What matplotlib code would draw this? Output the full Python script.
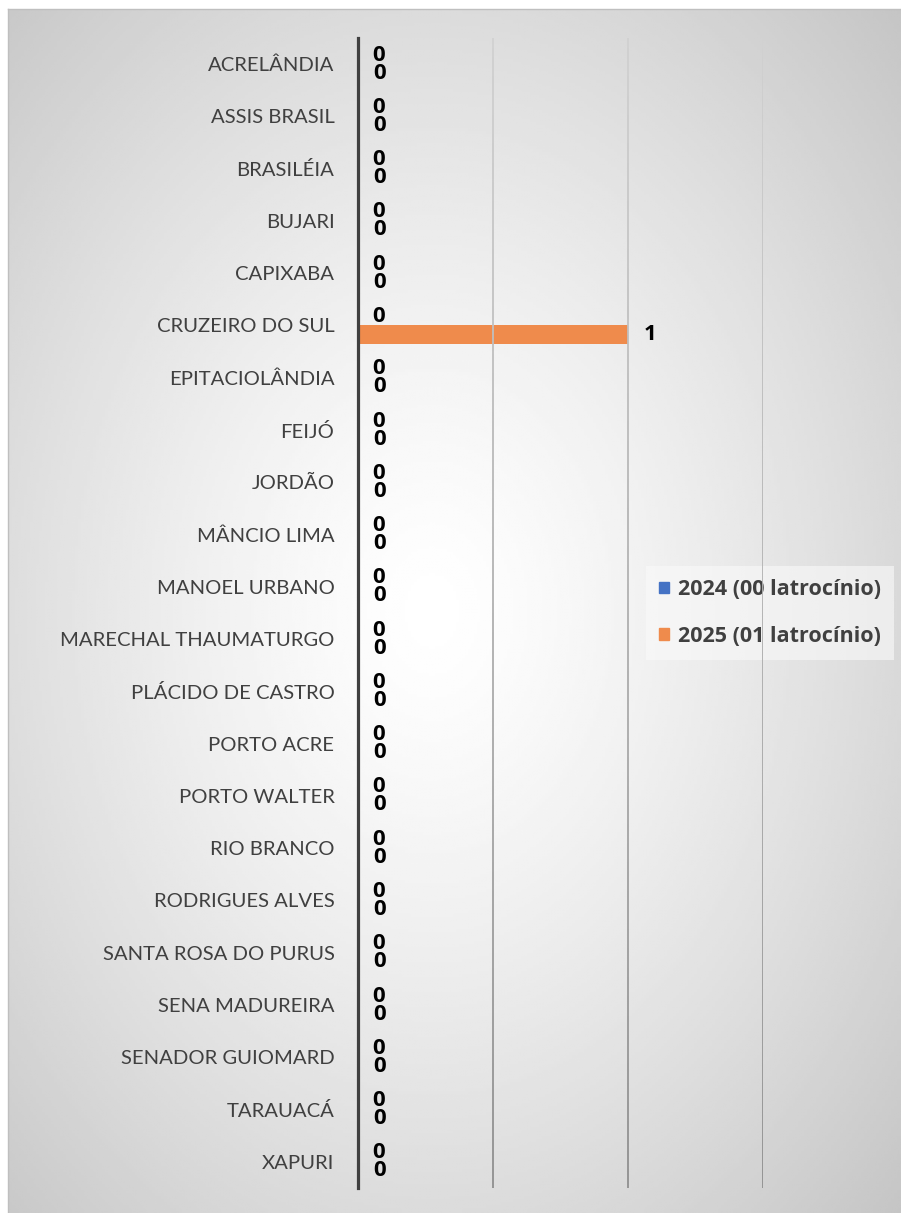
import matplotlib.pyplot as plt
import numpy as np
from matplotlib.collections import LineCollection
from matplotlib.patches import Patch
import matplotlib.transforms as mtransforms

# --- data ---
municipios = ["ACRELÂNDIA", "ASSIS BRASIL", "BRASILÉIA", "BUJARI", "CAPIXABA",
              "CRUZEIRO DO SUL", "EPITACIOLÂNDIA", "FEIJÓ", "JORDÃO", "MÂNCIO LIMA",
              "MANOEL URBANO", "MARECHAL THAUMATURGO", "PLÁCIDO DE CASTRO",
              "PORTO ACRE", "PORTO WALTER", "RIO BRANCO", "RODRIGUES ALVES",
              "SANTA ROSA DO PURUS", "SENA MADUREIRA", "SENADOR GUIOMARD",
              "TARAUACÁ", "XAPURI"]
valores_2024 = [0, 0, 0, 0, 0, 0, 0, 0, 0, 0, 0, 0, 0, 0, 0, 0, 0, 0, 0, 0, 0, 0]
valores_2025 = [0, 0, 0, 0, 0, 1, 0, 0, 0, 0, 0, 0, 0, 0, 0, 0, 0, 0, 0, 0, 0, 0]
series = ["2024 (00 latrocínio)", "2025 (01 latrocínio)"]
x_ticks = [0, 0.5, 1.0, 1.5]

cor_2024 = '#4472C4'
cor_2025 = '#EF8B4C'
cor_texto = '#404040'
fonte_bold = 'Open Sans'

W, H = 901, 1213
fig = plt.figure(figsize=(W / 100, H / 100), dpi=100)

# --- radial gradient background ---
bg = fig.add_axes([8 / W, 0, 1 - 8 / W, 1 - 9 / H], zorder=-10)
gx, gy = np.meshgrid(np.linspace(-1, 1, 300), np.linspace(-1, 1, 400))
r = np.sqrt(((gx + 0.05) ** 2 + gy ** 2) / 2)
val = np.clip(1 - 0.22 * r ** 1.3, 0, 1)
bg.imshow(val, cmap='gray', vmin=0, vmax=1, aspect='auto', extent=[0, 1, 0, 1])
bg.set_axis_off()
fig.add_artist(plt.Line2D([8 / W, 1], [1 - 9 / H, 1 - 9 / H], color='#bfbfbf', lw=1))
fig.add_artist(plt.Line2D([8 / W, 8 / W], [0, 1 - 9 / H], color='#bfbfbf', lw=1))

# --- main axes ---
ax = fig.add_axes([358 / W, 1 - 1188 / H, (763 - 358) / W, (1188 - 38) / H])
ax.patch.set_alpha(0)

y = np.arange(len(municipios))
h = 0.345
ax.barh(y - h / 2, valores_2024, height=h, color=cor_2024, label=series[0])
ax.barh(y + h / 2, valores_2025, height=h, color=cor_2025, label=series[1])

ax.set_xlim(0, 1.5)
ax.set_ylim(len(municipios) - 0.5, -0.5)
ax.set_yticks(y)
ax.set_yticklabels(municipios, fontfamily='Lato', fontsize=14.6, color=cor_texto)
ax.tick_params(axis='y', length=0, pad=17)
ax.set_xticks(x_ticks)
ax.tick_params(axis='x', length=0, labelbottom=False)

for s in ['top', 'right', 'bottom']:
    ax.spines[s].set_visible(False)
ax.spines['left'].set_color(cor_texto)
ax.spines['left'].set_linewidth(2.3)
ax.spines['left'].set_zorder(7)

# gradient gridlines (light at top, darker at bottom)
segs, cols = [], []
n = 120
ts = np.linspace(0, 1, n + 1)
for xv in ax.get_xticks()[1:]:
    for i in range(n):
        segs.append([(xv, ts[i]), (xv, ts[i + 1])])
        g = 0.56 + 0.26 * ts[i]
        cols.append((g, g, g))
trans = mtransforms.blended_transform_factory(ax.transData, ax.transAxes)
lc = LineCollection(segs, colors=cols, linewidths=1.3, transform=trans, zorder=6)
ax.add_collection(lc)

# data labels
for yi, v in zip(y, valores_2024):
    ax.annotate(str(v), (v, yi - h / 2), xytext=(10, 0), textcoords='offset points',
                ha='left', va='center', fontfamily=fonte_bold, fontweight='bold',
                fontsize=16, color='black')
for yi, v in zip(y, valores_2025):
    ax.annotate(str(v), (v, yi + h / 2), xytext=(11, 0), textcoords='offset points',
                ha='left', va='center', fontfamily=fonte_bold, fontweight='bold',
                fontsize=16, color='black')

handles = [Patch(color=cor_2024, label=series[0]), Patch(color=cor_2025, label=series[1])]
leg = ax.legend(handles=handles, loc='center left', bbox_to_anchor=(0.685, 0.5),
                frameon=True, fancybox=False, framealpha=0.6, edgecolor='none',
                facecolor='#fafafa', handlelength=0.45, handleheight=0.45,
                handletextpad=0.45, labelspacing=1.2, borderpad=0.6,
                prop={'family': fonte_bold, 'weight': 'bold', 'size': 15.5})
for t in leg.get_texts():
    t.set_color(cor_texto)
leg.set_zorder(5)

fig.savefig('out.png', dpi=100)
